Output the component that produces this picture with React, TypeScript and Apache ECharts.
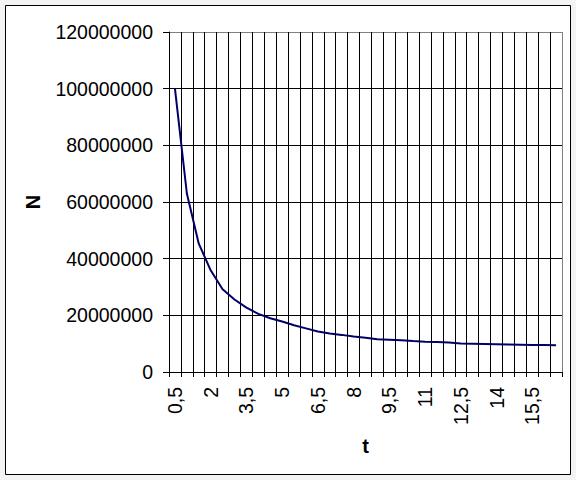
import React, { useEffect, useRef } from "react";
import * as echarts from "echarts";

const tValues: number[] = [
  0.5, 1, 1.5, 2, 2.5, 3, 3.5, 4, 4.5, 5, 5.5, 6, 6.5, 7, 7.5, 8, 8.5, 9, 9.5,
  10, 10.5, 11, 11.5, 12, 12.5, 13, 13.5, 14, 14.5, 15, 15.5, 16, 16.5,
];
const categories: string[] = tValues.map((v) => String(v).replace(".", ","));
const nValues: number[] = [
  100000000, 63000000, 45300000, 35900000, 29200000, 25600000, 22700000,
  20500000, 18950000, 17800000, 16500000, 15400000, 14300000, 13600000,
  13100000, 12500000, 12100000, 11600000, 11400000, 11200000, 10900000,
  10700000, 10600000, 10400000, 10100000, 10000000, 9900000, 9800000, 9700000,
  9600000, 9500000, 9500000, 9400000,
];
const yMin = 0;
const yMax = 120000000;
const yStep = 20000000;

const FONT = "'Liberation Sans', Arial, sans-serif";

export default function App() {
  const ref = useRef<HTMLDivElement>(null);
  useEffect(() => {
    if (!ref.current) return;
    const chart = echarts.init(ref.current, null, { renderer: "svg" });
    const yLineCount = Math.round((yMax - yMin) / yStep) + 1;
    const yColors = Array.from({ length: yLineCount }, (_, i) =>
      i === yLineCount - 1 ? "#808080" : "#000000"
    );
    const xLineCount = categories.length + 1;
    const xColors = Array.from({ length: xLineCount }, (_, i) =>
      i === xLineCount - 1 ? "#808080" : "#000000"
    );
    chart.setOption({
      animation: false,
      backgroundColor: "#f3f3f3",
      graphic: [
        {
          type: "rect",
          z: -10,
          shape: { x: 5.5, y: 5.5, width: 565, height: 469 },
          style: { fill: "#ffffff", stroke: "#000000", lineWidth: 1 },
        },
      ],
      grid: { left: 169, top: 32, width: 393, height: 340, containLabel: false },
      xAxis: {
        type: "category",
        data: categories,
        boundaryGap: true,
        name: "t",
        nameLocation: "middle",
        nameGap: 64,
        nameTextStyle: {
          fontFamily: FONT,
          fontWeight: "bold",
          fontSize: 20,
          color: "#000",
        },
        axisLine: { show: true, lineStyle: { color: "#000", width: 1 } },
        axisTick: {
          show: true,
          interval: 0,
          length: 5,
          lineStyle: { color: "#000" },
        },
        axisLabel: {
          interval: 2,
          rotate: 90,
          margin: 15,
          fontFamily: FONT,
          fontSize: 19.5,
          color: "#000",
        },
        splitLine: {
          show: true,
          interval: 0,
          lineStyle: { color: xColors, width: 1 },
        },
      },
      yAxis: {
        type: "value",
        min: yMin,
        max: yMax,
        interval: yStep,
        name: "N",
        nameLocation: "middle",
        nameGap: 126,
        nameTextStyle: {
          fontFamily: FONT,
          fontWeight: "bold",
          fontSize: 20,
          color: "#000",
        },
        axisLine: { show: true, lineStyle: { color: "#000", width: 1 } },
        axisTick: { show: true, length: 6, lineStyle: { color: "#000" } },
        axisLabel: {
          margin: 16,
          fontFamily: FONT,
          fontSize: 19.5,
          color: "#000",
          formatter: (v: number) => String(v),
        },
        splitLine: {
          show: true,
          lineStyle: { color: yColors, width: 1 },
        },
      },
      series: [
        {
          type: "line",
          data: nValues,
          showSymbol: false,
          symbol: "none",
          smooth: false,
          lineStyle: { color: "#000066", width: 2 },
          z: 5,
        },
      ],
    });
    return () => chart.dispose();
  }, []);
  return (
    <div
      ref={ref}
      style={{ position: "absolute", left: 0, top: 0, width: 576, height: 480 }}
    />
  );
}
